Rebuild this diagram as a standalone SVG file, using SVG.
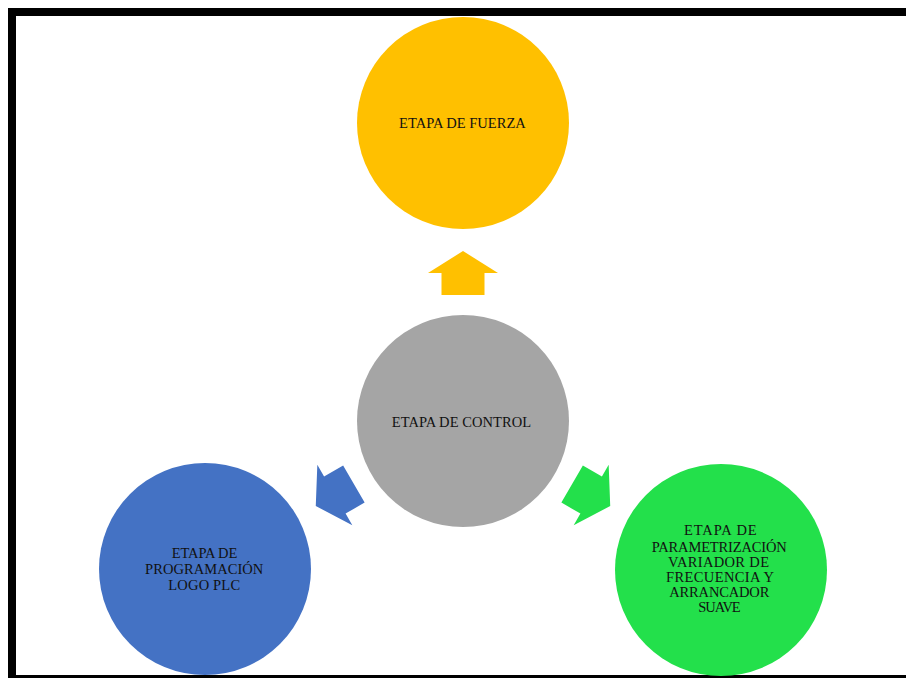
<svg xmlns="http://www.w3.org/2000/svg" width="906" height="678" viewBox="0 0 906 678">
<style>
.lbl{font-family:"Liberation Serif","Times New Roman",serif;font-size:14.5px;fill:#111;text-anchor:middle}
</style>
<defs>
<path id="arr" d="M463,251 L498,273 L484.5,273 L484.5,295 L441.5,295 L441.5,273 L428,273 Z"/>
</defs>
<rect width="906" height="678" fill="#fff"/>
<g id="frame" fill="#000">
<rect x="8" y="8" width="898" height="8"/>
<rect x="8" y="8" width="8" height="670"/>
<rect x="8" y="675" width="898" height="3"/>
</g>
<g id="connectors">
<use href="#arr" fill="#FFC000"/>
<use href="#arr" fill="#4472C4" transform="rotate(-120 463 421)"/>
<use href="#arr" fill="#23E04B" transform="rotate(120 463 421)"/>
</g>
<g id="fuerza">
<circle cx="463" cy="123" r="106" fill="#FFC000"/>
<text class="lbl" x="462.4" y="127.7" textLength="126.7" lengthAdjust="spacing">ETAPA DE FUERZA</text>
</g>
<g id="control">
<circle cx="463" cy="421" r="106" fill="#A5A5A5"/>
<text class="lbl" x="461.4" y="427" textLength="139.3" lengthAdjust="spacing">ETAPA DE CONTROL</text>
</g>
<g id="programacion">
<circle cx="205" cy="569" r="106" fill="#4472C4"/>
<text class="lbl" x="204.5" y="558" textLength="65.7" lengthAdjust="spacing">ETAPA DE</text>
<text class="lbl" x="204.2" y="574.3" textLength="118.3" lengthAdjust="spacing">PROGRAMACIÓN</text>
<text class="lbl" x="204.2" y="590" textLength="71.7" lengthAdjust="spacing">LOGO PLC</text>
</g>
<g id="parametrizacion">
<circle cx="721" cy="570" r="106" fill="#23E04B"/>
<text class="lbl" x="720.3" y="535" textLength="72.7" lengthAdjust="spacing">ETAPA DE</text>
<text class="lbl" x="719.2" y="551.5" textLength="135" lengthAdjust="spacing">PARAMETRIZACIÓN</text>
<text class="lbl" x="718.5" y="566.7" textLength="101" lengthAdjust="spacing">VARIADOR DE</text>
<text class="lbl" x="720" y="581.7" textLength="108" lengthAdjust="spacing">FRECUENCIA Y</text>
<text class="lbl" x="719.3" y="596.7" textLength="100" lengthAdjust="spacing">ARRANCADOR</text>
<text class="lbl" x="719.5" y="611.7" textLength="42.4" lengthAdjust="spacing">SUAVE</text>
</g>
</svg>
